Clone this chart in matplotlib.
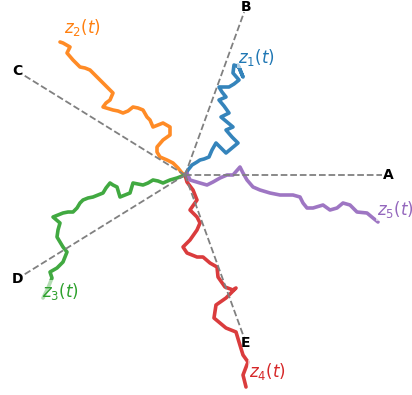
import matplotlib
matplotlib.use("Agg")
import matplotlib.pyplot as plt

# Five walks, offsets from the common start point
z1_x = [0, 3, 7, 12, 15, 19, 24, 27, 31, 36, 41, 47, 53, 47, 41, 48, 42, 36, 44, 39, 34, 41, 37, 34, 44, 49, 54, 48, 49, 54, 58, 55, 53]
z1_y = [0, 5, 10, 13, 15, 16, 18, 25, 32, 27, 22, 27, 32, 38, 45, 48, 53, 58, 62, 69, 75, 78, 83, 88, 88, 91, 95, 102, 110, 108, 98, 105, 110]

z2_x = [0, -3, -7, -12, -18, -25, -28, -28, -22, -15, -15, -22, -32, -35, -38, -42, -47, -52, -57, -62, -67, -72, -82, -79, -75, -72, -78, -83, -88, -95, -100, -105, -112, -118, -115, -122, -125]
z2_y = [0, 2, 7, 12, 15, 18, 23, 28, 35, 40, 48, 52, 48, 55, 58, 65, 67, 68, 64, 62, 64, 65, 68, 72, 75, 82, 88, 93, 98, 105, 107, 108, 115, 122, 128, 132, 133]

z3_x = [0, -8, -15, -22, -27, -32, -37, -42, -47, -52, -55, -60, -65, -68, -72, -75, -79, -82, -87, -92, -97, -102, -105, -108, -112, -117, -122, -127, -132, -125, -127, -128, -125, -122, -118, -122, -128, -135, -133, -137, -142]
z3_y = [0, -3, -5, -8, -6, -5, -8, -10, -9, -8, -18, -20, -22, -12, -10, -8, -13, -18, -20, -22, -23, -25, -28, -33, -37, -37, -38, -40, -42, -48, -55, -62, -67, -72, -77, -87, -93, -97, -103, -113, -123]

z4_x = [0, 2, 8, 12, 5, 12, 15, 12, 5, -2, 2, 12, 18, 25, 32, 33, 40, 48, 51, 41, 31, 29, 35, 41, 51, 54, 58, 63, 58, 61]
z4_y = [0, -7, -15, -25, -35, -42, -48, -55, -65, -72, -78, -82, -82, -88, -92, -102, -112, -115, -113, -123, -130, -143, -148, -153, -157, -167, -180, -187, -200, -212]

z5_x = [0, 2, 5, 15, 22, 28, 35, 42, 48, 55, 58, 62, 68, 75, 85, 95, 102, 108, 115, 118, 122, 128, 138, 145, 152, 158, 165, 172, 182, 188, 193]
z5_y = [0, 2, -5, -8, -10, -7, -3, 0, 0, 8, 2, -5, -12, -15, -18, -20, -20, -20, -22, -28, -33, -33, -30, -35, -33, -28, -30, -37, -38, -43, -47]

walks = [(z1_x, z1_y), (z2_x, z2_y), (z3_x, z3_y), (z4_x, z4_y), (z5_x, z5_y)]
walk_labels = ["$z_1(t)$", "$z_2(t)$", "$z_3(t)$", "$z_4(t)$", "$z_5(t)$"]
label_x = [71, -103, -125, 82, 210]
label_y = [118, 147, -116, -196, -35]

# direction vertices
vert_names = ["A", "B", "C", "D", "E"]
vert_x = [203, 61, -168, -168, 61]
vert_y = [0, 168, 104, -104, -168]

colors = ["tab:blue", "tab:orange", "tab:green", "tab:red", "tab:purple"]

fig = plt.figure(figsize=(4.12, 3.95), dpi=100)
ax = fig.add_axes([0, 0, 1, 1])

for (wx, wy), c in zip(walks, colors):
    ax.plot(wx, wy, color=c, lw=2.6, alpha=0.9, solid_joinstyle="round",
            solid_capstyle="round", zorder=2)

for name, vx, vy in zip(vert_names, vert_x, vert_y):
    ax.plot([0, 0.97 * vx], [0, 0.97 * vy], color="grey", lw=1.3, ls="--", zorder=3)
    ax.text(vx, vy, name, fontsize=10, fontweight="bold", ha="center", va="center", zorder=4)

for lab, lx, ly, c in zip(walk_labels, label_x, label_y, colors):
    ax.text(lx, ly, lab, color=c, fontsize=12, ha="center", va="center", zorder=4,
            bbox=dict(facecolor="white", edgecolor="none", alpha=0.6, pad=0.5))

ax.set_xlim(-185, 227)
ax.set_ylim(-220, 175)
ax.axis("off")

fig.savefig("out.png", dpi=100)
